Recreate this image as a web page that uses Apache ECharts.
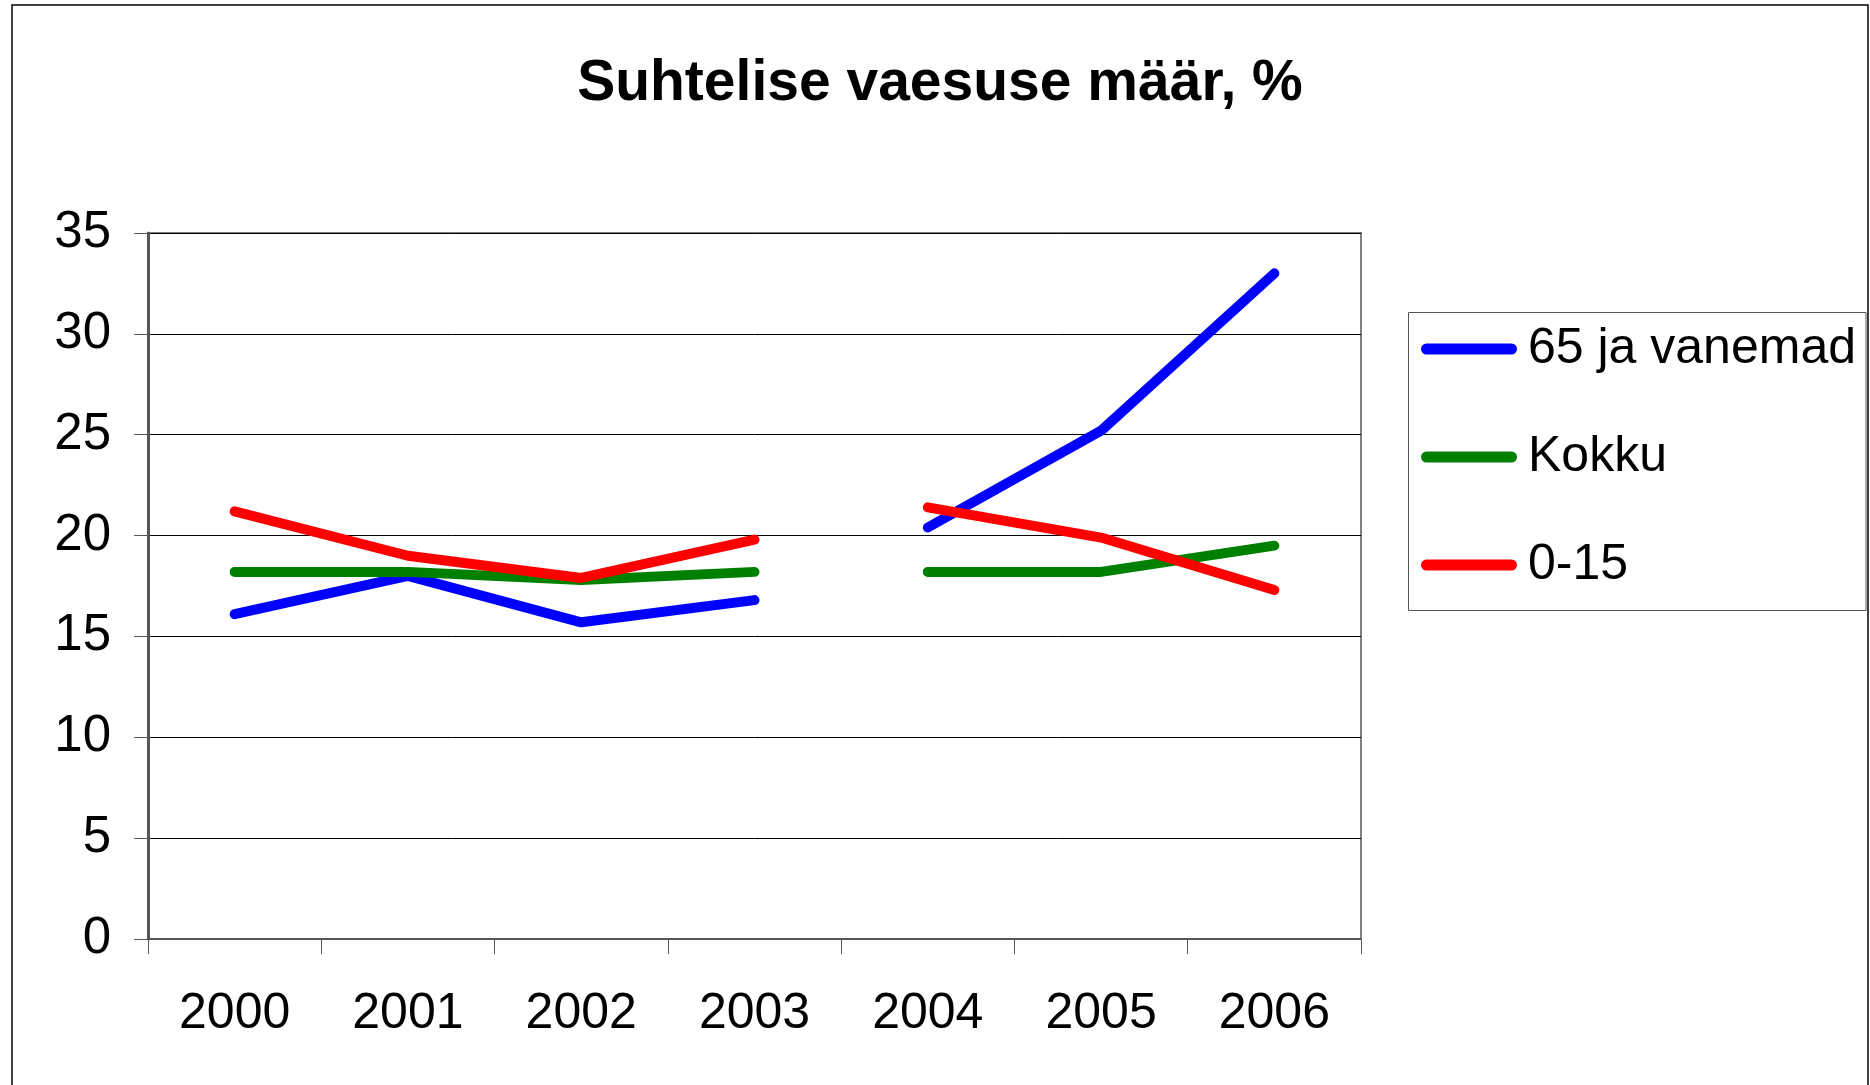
<!DOCTYPE html>
<html lang="et">
<head>
    <meta charset="UTF-8">
    <title>Suhtelise vaesuse määr</title>
    <script src="https://cdn.jsdelivr.net/npm/echarts@6/dist/echarts.min.js"></script>
    <style>
        html, body { margin: 0; padding: 0; background: #fff; }
        #main { width: 1870px; height: 1085px; }
    </style>
</head>
<body>
<div id="main"></div>
<script type="text/javascript">
    // andmed
    var years = ['2000', '2001', '2002', '2003', '2004', '2005', '2006'];
    var elderly = [16.1, 18.0, 15.7, 16.8, 20.4, 25.2, 33.0];   // 65 ja vanemad
    var total = [18.2, 18.2, 17.8, 18.2, 18.2, 18.2, 19.5];     // Kokku
    var children = [21.2, 19.0, 17.9, 19.8, 21.4, 19.9, 17.3];  // 0-15
    var names = ['65 ja vanemad', 'Kokku', '0-15'];
    var colors = ['#0000ff', '#008000', '#ff0000'];
    var yTicks = [0, 5, 10, 15, 20, 25, 30, 35];

    // 2003 ja 2004 vahel on katkestus
    function part(arr, from, to) {
        return arr.map(function (v, i) { return (i >= from && i <= to) ? v : null; });
    }

    var font = '"Liberation Sans", Arial, sans-serif';
    var series = [];
    [elderly, total, children].forEach(function (arr, k) {
        [[0, 3], [4, 6]].forEach(function (r) {
            series.push({
                name: names[k],
                type: 'line',
                data: part(arr, r[0], r[1]),
                symbol: 'none',
                connectNulls: false,
                color: colors[k],
                lineStyle: { width: 10, color: colors[k], cap: 'round', join: 'round' }
            });
        });
    });

    var myChart = echarts.init(document.getElementById('main'));
    var option = {
        animation: false,
        title: {
            text: 'Suhtelise vaesuse määr, %',
            left: 940,
            textAlign: 'center',
            top: 56,
            padding: 0,
            textStyle: { fontFamily: font, fontSize: 57, fontWeight: 'bold', color: '#000', lineHeight: 57 }
        },
        legend: {
            orient: 'vertical',
            left: 1421,
            top: 324,
            padding: 0,
            itemGap: 58,
            itemWidth: 96,
            itemHeight: 11,
            icon: 'path://M5.5,0 H90.5 A5.5,5.5 0 0 1 90.5,11 H5.5 A5.5,5.5 0 0 1 5.5,0 Z',
            data: names,
            textStyle: { fontFamily: font, fontSize: 50, color: '#000', lineHeight: 50, padding: [0, 0, 0, 6] }
        },
        grid: {
            left: 148,
            top: 233,
            width: 1213,
            height: 706,
            show: true,
            borderColor: '#808080',
            borderWidth: 2,
            backgroundColor: '#fff'
        },
        xAxis: {
            type: 'category',
            data: years,
            boundaryGap: true,
            axisLine: { lineStyle: { color: '#555', width: 2 } },
            axisTick: { show: true, length: 15, alignWithLabel: false, lineStyle: { color: '#555', width: 1 } },
            axisLabel: { fontFamily: font, fontSize: 50, color: '#000', margin: 50, lineHeight: 50 }
        },
        yAxis: {
            type: 'value',
            min: yTicks[0],
            max: yTicks[yTicks.length - 1],
            interval: 5,
            axisLine: { show: true, lineStyle: { color: '#555', width: 3 } },
            axisTick: { show: true, length: 14, lineStyle: { color: '#555', width: 1 } },
            axisLabel: { fontFamily: font, fontSize: 51, color: '#000', margin: 37 },
            splitLine: { show: true, lineStyle: { color: '#000', width: 1 } }
        },
        graphic: [
            {
                type: 'rect',
                shape: { x: 12, y: 5, width: 1856, height: 1100 },
                style: { fill: 'none', stroke: '#000', lineWidth: 1.5 },
                silent: true
            },
            {
                type: 'rect',
                shape: { x: 1408.5, y: 312.5, width: 457.5, height: 298 },
                style: { fill: 'none', stroke: '#555', lineWidth: 1 },
                silent: true
            },
            {
                // grey top border of the plot area, over the 35 gridline
                type: 'rect',
                shape: { x: 148, y: 232, width: 1213, height: 2 },
                style: { fill: '#808080' },
                silent: true
            }
        ],
        series: series
    };

    myChart.setOption(option);
</script>
</body>
</html>
